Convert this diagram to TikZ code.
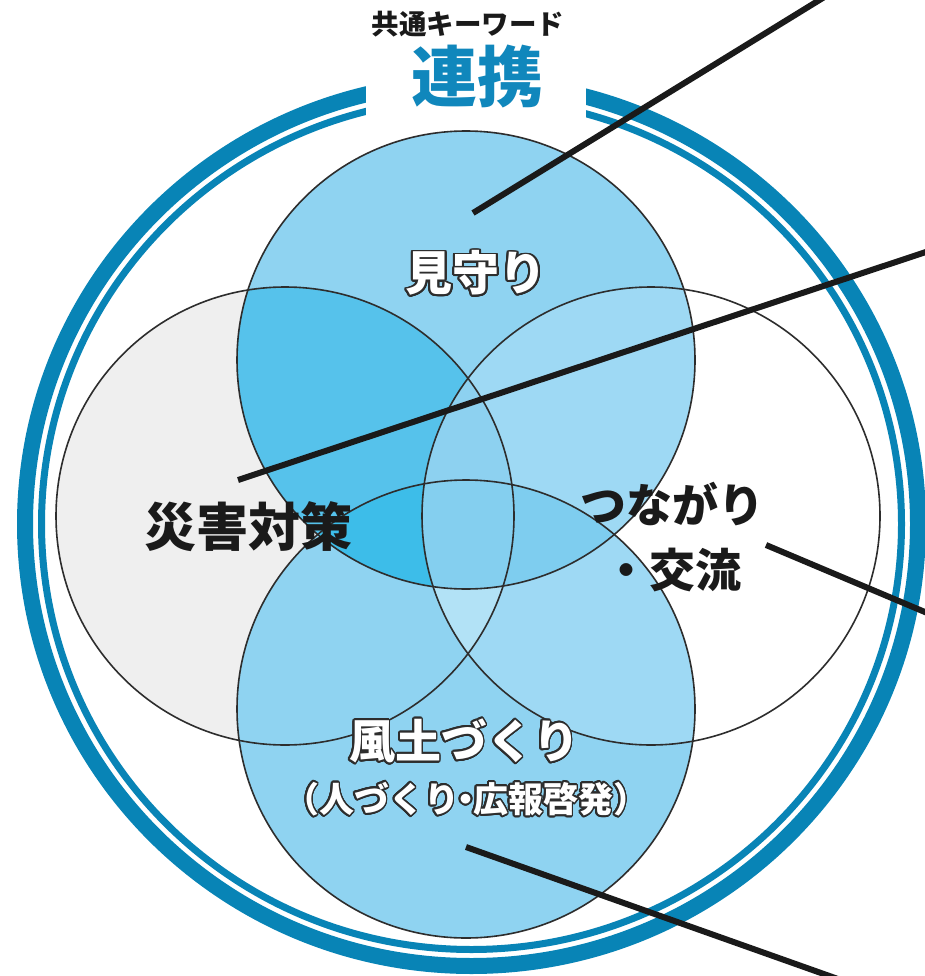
\documentclass[tikz,border=0pt]{standalone}
\usepackage{fontspec}
\usepackage[copies]{contour}
\newfontfamily\jp{Noto Sans CJK JP}
\contournumber{24}
\contourlength{1.8pt}
\definecolor{ringblue}{RGB}{8,132,182}
\definecolor{titleblue}{RGB}{16,135,188}
\definecolor{bbase}{RGB}{143,211,241}
\definecolor{btl}{RGB}{86,194,235}
\definecolor{btlb}{RGB}{61,189,233}
\definecolor{blight}{RGB}{158,217,244}
\definecolor{btbr}{RGB}{126,205,239}
\definecolor{ball}{RGB}{132,207,239}
\definecolor{btlr}{RGB}{141,209,240}
\definecolor{bblr}{RGB}{178,226,246}
\definecolor{lgray}{RGB}{239,239,239}
\definecolor{txtblack}{RGB}{26,26,26}
\definecolor{outl}{RGB}{45,45,45}
\def\vTop{(466,360) circle[radius=229pt]}
\def\vBot{(466,709) circle[radius=229pt]}
\def\vLeft{(285,516) circle[radius=229pt]}
\def\vRight{(651,516) circle[radius=229pt]}
\begin{document}
\begin{tikzpicture}[x=1pt,y=-1pt,
  ringband/.style={draw=ringblue},
  vout/.style={draw=outl, line width=1.6pt},
  pointer/.style={draw=txtblack, line width=6pt},
  blacklbl/.style={inner sep=0pt, text=txtblack, font=\jp\bfseries\fontsize{#1}{#1}\selectfont},
  whitelbl/.style={inner sep=0pt, font=\jp\bfseries\fontsize{#1}{#1}\selectfont}]
\useasboundingbox (0,0) rectangle (925,976);
\clip (0,0) rectangle (925,976);
\fill[white] (0,0) rectangle (925,976);
% ring
\coordinate (rc) at (471.5,524);
\path[ringband, line width=16pt] (rc) ellipse[x radius=446.5pt, y radius=442pt];
\path[ringband, line width=7pt] (rc) ellipse[x radius=430pt, y radius=425.5pt];
\fill[white] (366,40) rectangle (586,124);
% venn base
\fill[lgray] \vLeft;
\fill[white] \vRight;
\fill[bbase] \vTop;
\fill[bbase] \vBot;
\begin{scope}\clip \vTop; \clip \vLeft; \fill[btl] \vTop; \end{scope}
\begin{scope}\clip \vRight; \fill[blight] \vTop; \fill[blight] \vBot; \end{scope}
\begin{scope}\clip \vTop; \clip \vLeft; \clip \vRight; \fill[btlr] \vTop; \end{scope}
\begin{scope}\clip \vBot; \clip \vLeft; \clip \vRight; \fill[bblr] \vBot; \end{scope}
\begin{scope}\clip \vTop; \clip \vBot; \fill[btbr] \vTop;
  \clip \vLeft; \fill[btlb] \vTop;
  \clip \vRight; \fill[ball] \vTop;
\end{scope}
\path[vout] \vLeft;
\path[vout] \vRight;
\path[vout] \vTop;
\path[vout] \vBot;
% pointer lines
\coordinate (p1a) at (473,213);
\coordinate (p1b) at (826,-4);
\coordinate (p2a) at (238,480);
\coordinate (p2b) at (932,250);
\coordinate (p3a) at (766,545);
\coordinate (p3b) at (932,615);
\coordinate (p4a) at (466,847);
\coordinate (p4b) at (852,984);
\path[pointer] (p1a) -- (p1b);
\path[pointer] (p2a) -- (p2b);
\path[pointer] (p3a) -- (p3b);
\path[pointer] (p4a) -- (p4b);
% titles
\node[blacklbl=27.5] (kw) at (468,24) {共通キーワード};
\node[whitelbl=66, text=titleblue] (renkei) at (477,76) {連携};
% labels
\node[whitelbl=47] (mimamori) at (476,274) {\contour{outl}{\textcolor{white}{見守り}}};
\node[blacklbl=52] (saigai) at (248,527) {災害対策};
\node[blacklbl=46] (tsunagari) at (672,504) {つながり};
\node[blacklbl=46] (koryu) at (672,570) {・交流};
\node[whitelbl=46] (fudo) at (464,742) {\contour{outl}{\textcolor{white}{風土づくり}}};
\node[whitelbl=35] (hito) at (466,800) {\contour{outl}{\textcolor{white}{（人づくり\kern-0.3em・\kern-0.3em広報啓発）}}};
\end{tikzpicture}
\end{document}
